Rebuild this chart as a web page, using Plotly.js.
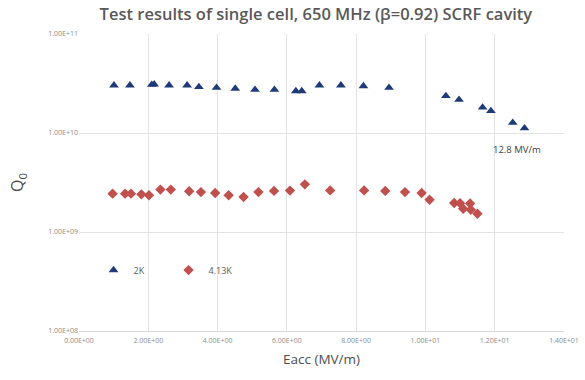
<!DOCTYPE html>
<html>
<head>
<meta charset="utf-8">
<script src="https://cdn.plot.ly/plotly-3.0.1.min.js"></script>
<style>html,body{margin:0;padding:0;background:#fff;}#chart{width:585px;height:380px;}</style>
</head>
<body>
<div id="chart"></div>
<script>
// 2K series (Eacc in MV/m, Q0)
const eacc2K = [1.01, 1.47, 2.10, 2.17, 2.60, 3.12, 3.46, 3.97, 4.51, 5.08, 5.64, 6.26, 6.43, 6.94, 7.56, 8.21, 8.95, 10.59, 10.97, 11.65, 11.89, 12.52, 12.86];
const q2K    = [3.03e10, 3.03e10, 3.08e10, 3.1e10, 3.03e10, 3.03e10, 2.92e10, 2.87e10, 2.81e10, 2.74e10, 2.74e10, 2.65e10, 2.65e10, 3.03e10, 3.03e10, 2.98e10, 2.87e10, 2.37e10, 2.17e10, 1.81e10, 1.67e10, 1.27e10, 1.12e10];
// 4.13K series
const eacc4K = [0.97, 1.33, 1.50, 1.80, 2.02, 2.35, 2.65, 3.18, 3.52, 3.93, 4.32, 4.75, 5.18, 5.63, 6.09, 6.52, 7.25, 8.23, 8.84, 9.41, 9.89, 10.12, 10.83, 11.00, 11.09, 11.29, 11.31, 11.50];
const q4K    = [2.44e9, 2.44e9, 2.44e9, 2.40e9, 2.35e9, 2.68e9, 2.68e9, 2.58e9, 2.53e9, 2.48e9, 2.35e9, 2.26e9, 2.53e9, 2.60e9, 2.62e9, 3.03e9, 2.63e9, 2.63e9, 2.60e9, 2.53e9, 2.48e9, 2.12e9, 1.96e9, 1.95e9, 1.72e9, 1.94e9, 1.68e9, 1.53e9];
const seriesNames = ["2K", "4.13K"];
// tick labels
const xTickVals = [0, 2, 4, 6, 8, 10, 12, 14];
const xTickText = ["0.00E+00", "2.00E+00", "4.00E+00", "6.00E+00", "8.00E+00", "1.00E+01", "1.20E+01", "1.40E+01"];
const yTickVals = [1e8, 1e9, 1e10, 1e11];
const yTickText = ["1.00E+08", "1.00E+09", "1.00E+10", "1.00E+11"];
const maxLabel = {x: 12.64, y: 6.8e9, text: "12.8 MV/m"};

const FONT = "Open Sans, sans-serif";
const traces = [
  {x: eacc2K, y: q2K, name: seriesNames[0], type: "scatter", mode: "markers",
   marker: {symbol: "triangle-up", size: 8.5, color: "#1f3a78"}},
  {x: eacc4K, y: q4K, name: seriesNames[1], type: "scatter", mode: "markers",
   marker: {symbol: "diamond", size: 8, color: "#c0504d"}}
];
const layout = {
  width: 585, height: 380,
  paper_bgcolor: "#fff", plot_bgcolor: "#fff",
  margin: {l: 79, r: 21, t: 34, b: 49, autoexpand: false},
  title: {text: "Test results of single cell, 650 MHz (β=0.92) SCRF cavity",
          font: {family: FONT, size: 16.5, color: "#595959", weight: 600}, x: 0.54, xanchor: "center", y: 0.962, yanchor: "middle"},
  xaxis: {range: [0, 14], tickvals: xTickVals, ticktext: xTickText,
          showgrid: true, gridcolor: "#e3e3e3", gridwidth: 1, zeroline: false,
          showline: true, linecolor: "#d9d9d9", ticks: "", ticklabelstandoff: 3,
          tickfont: {family: FONT, size: 7, color: "#8c8c8c"},
          title: {text: "Eacc (MV/m)", font: {family: FONT, size: 13.5, color: "#4d4d4d"}, standoff: 10}},
  yaxis: {type: "log", range: [8, 11], tickvals: yTickVals, ticktext: yTickText,
          showgrid: true, gridcolor: "#e3e3e3", gridwidth: 1, zeroline: false,
          showline: false, ticks: "",
          tickfont: {family: FONT, size: 7, color: "#8c8c8c"},
          title: {text: "Q<sub>0</sub>", font: {family: FONT, size: 16, color: "#4d4d4d"}, standoff: 20}},
  legend: {orientation: "h", x: 0.03, y: 0.205, xanchor: "left", yanchor: "middle",
           bgcolor: "rgba(0,0,0,0)", font: {family: FONT, size: 9, color: "#595959"},
           itemwidth: 30, entrywidth: 30, tracegroupgap: 0},
  annotations: [{x: maxLabel.x, y: Math.log10(maxLabel.y), xref: "x", yref: "y",
                 text: maxLabel.text, showarrow: false,
                 font: {family: FONT, size: 9.5, color: "#404040"}}],
  showlegend: true
};
Plotly.newPlot("chart", traces, layout, {displayModeBar: false, staticPlot: true});
</script>
</body>
</html>
